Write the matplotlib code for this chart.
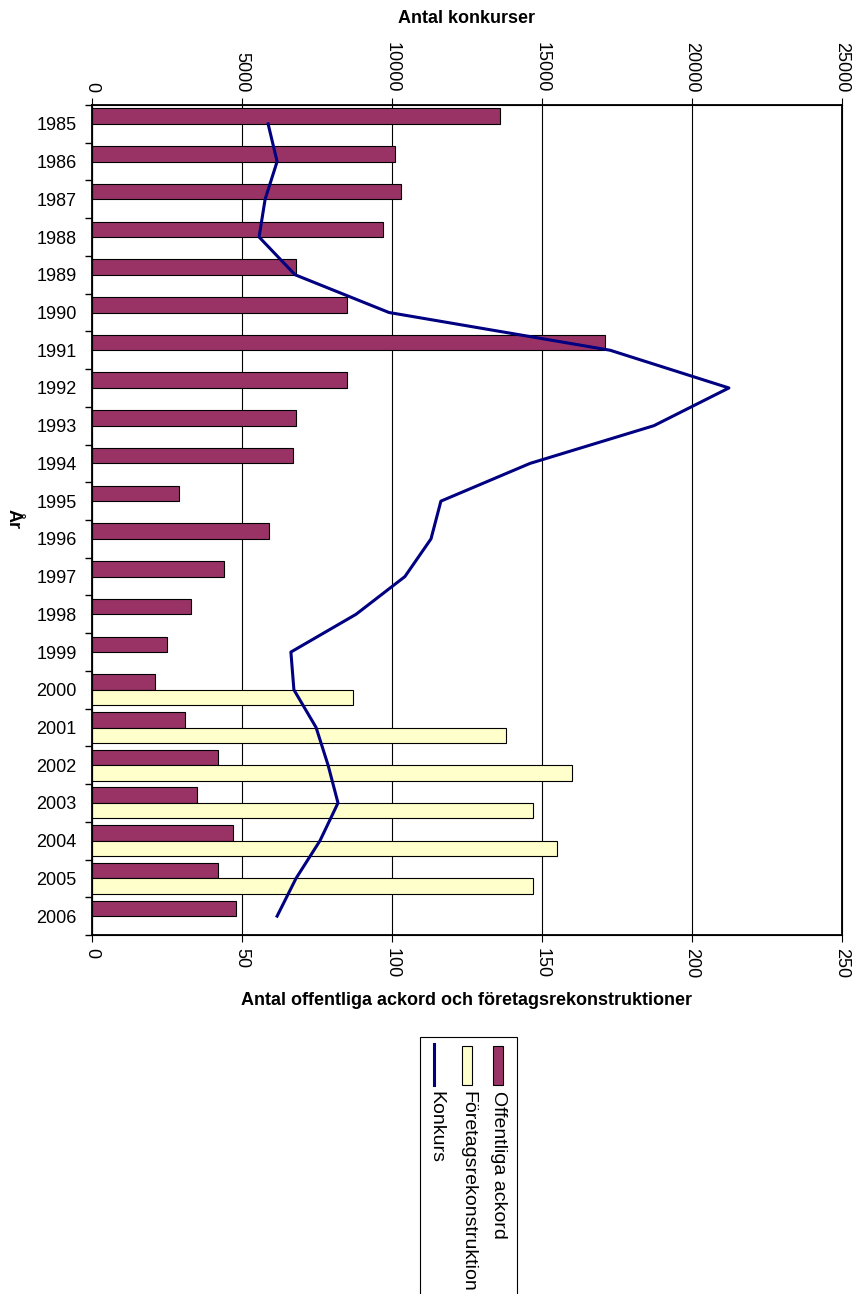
import numpy as np
import matplotlib.pyplot as plt
from matplotlib.patches import Rectangle
from matplotlib.lines import Line2D

plt.rcParams['font.family'] = ['Liberation Sans', 'DejaVu Sans']

years = [str(y) for y in range(1985, 2007)]
ackord = [136, 101, 103, 97, 68, 85, 171, 85, 68, 67, 29, 59, 44, 33, 25,
          21, 31, 42, 35, 47, 42, 48]
rekon_years = ["2000", "2001", "2002", "2003", "2004", "2005"]
rekon = [87, 138, 160, 147, 155, 147]
konkurs = [5870, 6170, 5770, 5570, 6770, 9900, 17270, 21230, 18730, 14600,
           11630, 11300, 10430, 8800, 6630, 6730, 7470, 7870, 8200, 7600,
           6800, 6170]

purple = "#993366"
yellow = "#FFFFCC"
navy = "#000080"
fs = 13

W, H = 856, 1294
fig = plt.figure(figsize=(W / 100, H / 100), dpi=100)
ax = fig.add_axes([92 / W, 1 - 935 / H, (842 - 92) / W, (935 - 105) / H])

pos = np.arange(len(years))
bh = 0.41
ax.barh(pos - bh / 2, ackord, height=bh, color=purple, edgecolor="black",
        linewidth=0.8, zorder=3)
rpos = np.array([years.index(y) for y in rekon_years])
ax.barh(rpos + bh / 2, rekon, height=bh, color=yellow, edgecolor="black",
        linewidth=0.8, zorder=3)

ax.set_xlim(0, 250)
ax.set_ylim(len(years) - 0.5, -0.5)
ax.set_xticks(np.arange(0, 251, 50))
ax.tick_params(axis="x", labelsize=fs, labelrotation=-90, length=5, pad=4)
ax.xaxis.grid(True, color="black", linewidth=0.8, zorder=0)

ax.set_yticks(np.arange(-0.5, len(years), 1.0))
ax.set_yticklabels([])
ax.tick_params(axis="y", which="major", length=5, width=1)
ax.set_yticks(pos, minor=True)
ax.set_yticklabels(years, minor=True, fontsize=fs)
ax.tick_params(axis="y", which="minor", length=0, pad=11)

for s in ax.spines.values():
    s.set_linewidth(1.3)

ax.set_xlabel("Antal offentliga ackord och företagsrekonstruktioner",
              fontsize=fs, fontweight="bold", labelpad=10)

ax2 = ax.twiny()
ax2.plot(konkurs, pos, color=navy, linewidth=2.2, zorder=4)
ax2.set_xlim(0, 25000)
ax2.set_xticks(np.arange(0, 25001, 5000))
ax2.tick_params(axis="x", labelsize=fs, labelrotation=-90, length=5, pad=4)
ax2.set_xlabel("Antal konkurser", fontsize=fs, fontweight="bold", labelpad=14)

def fx(x):
    return x / W

def fy(y):
    return 1 - y / H

fig.text(fx(13), fy(519), "År", rotation=-90, ha="center", va="center",
         fontsize=fs, fontweight="bold")

# legend (rotated, drawn manually)
fig.patches.append(Rectangle((fx(420), fy(1300)), fx(517) - fx(420),
                             fy(1037) - fy(1300), transform=fig.transFigure,
                             facecolor="white", edgecolor="black",
                             linewidth=0.8))
fig.patches.append(Rectangle((fx(493), fy(1085)), fx(10), fy(1046) - fy(1085),
                             transform=fig.transFigure, facecolor=purple,
                             edgecolor="black", linewidth=0.8))
fig.patches.append(Rectangle((fx(462), fy(1085)), fx(10), fy(1046) - fy(1085),
                             transform=fig.transFigure, facecolor=yellow,
                             edgecolor="black", linewidth=0.8))
fig.lines.append(Line2D([fx(434), fx(434)], [fy(1044), fy(1085)],
                        transform=fig.transFigure, color=navy, linewidth=2.2))
for x, label in [(498, "Offentliga ackord"), (468, "Företagsrekonstruktion"),
                 (436, "Konkurs")]:
    fig.text(fx(x), fy(1091), label, rotation=-90, ha="center", va="top",
             fontsize=14)

fig.savefig("out.png", dpi=100)
